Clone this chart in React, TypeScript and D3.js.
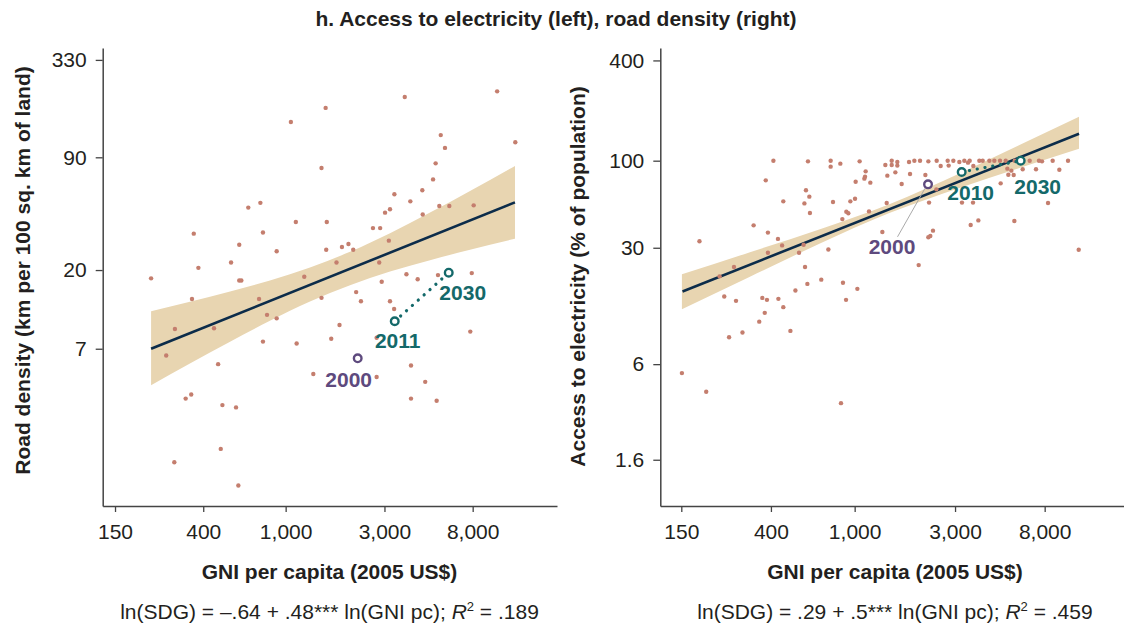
import { useEffect, useRef } from "react";
import * as d3 from "d3";

const gniTicks = [150, 400, 1000, 3000, 8000];

// Left panel: road density vs GNI per capita
const roadGni = [
  10500, 3760, 1560, 1060, 12850, 5610, 5880, 1490, 5300, 5150,
  3350, 4570, 4000, 5520, 6170, 8090, 3190, 3020, 4590, 660,
  755, 1120, 1580, 777, 360, 2640, 2860, 3150, 597, 905,
  1570, 1870, 2010, 2120, 545, 379, 1760, 2830, 224, 597,
  611, 1230, 3830, 4340, 5440, 7920, 2910, 353, 744, 1490,
  2190, 2310, 3190, 3340, 813, 905, 292, 451, 1820, 265,
  472, 777, 1130, 1660, 2750, 1360, 2750, 4030, 4720, 4030,
  5360, 7790, 329, 350, 495, 576, 486, 290, 591, 3360,
];
const roadDensity = [
  217, 201, 174, 144, 110, 121, 102, 78, 83, 67,
  55, 58, 50, 47, 47, 47.4, 45, 43, 42, 46,
  49, 38, 38, 33, 32.5, 35, 35, 29.6, 28, 25.7,
  26.2, 27.2, 28.3, 26.2, 22.1, 20.6, 22.1, 22.1, 17.9, 17.4,
  17.4, 18.3, 18.9, 17.7, 18.7, 19.2, 17.1, 13.6, 13.6, 13.8,
  14.9, 13.2, 13.2, 11.9, 11.0, 10.5, 9.1, 9.2, 9.6, 6.4,
  5.7, 7.7, 7.5, 8.0, 8.1, 5.0, 4.8, 5.6, 4.5, 3.6,
  3.5, 8.8, 3.6, 3.8, 3.3, 3.2, 1.84, 1.54, 1.13, 10.1,
];
const roadTicks = [7, 20, 90, 330];
const roadBandGni = [224, 345, 539, 840, 1311, 2046, 3192, 4980, 7768, 12806];
const roadBandLow = [4.3, 5.74, 7.69, 10.16, 13.13, 16.34, 19.59, 22.8, 26.23, 30.39];
const roadBandHigh = [11.53, 13.09, 15.02, 17.42, 20.72, 25.51, 32.69, 43.04, 57.46, 80.24];
const roadFitGni = [224, 12800];
const roadFit = [7.0, 49.3];
const roadYears = ["2000", "2011", "2030"];
const roadYearGni = [2228, 3363, 6130];
const roadYearValue = [6.16, 10.1, 19.3];

// Right panel: access to electricity vs GNI per capita
const elecGni = [
  411, 600, 769, 769, 855, 1056, 1399, 1500, 1500, 1595,
  1595, 1813, 1922, 2045, 2240, 2454, 2564, 2768, 2798, 2945,
  3145, 3321, 3457, 3521, 3665, 3914, 4060, 4368, 4612, 4907,
  5222, 5763, 6788, 7518, 7770, 8733, 10330, 5318, 5556, 5375,
  5700, 6290, 7276, 9393, 4943, 3237, 3652, 3560, 3871, 5741,
  8299, 11610, 1128, 1112, 1120, 1011, 1187, 1430, 1561, 1833,
  1673, 2168, 378, 2445, 587, 609, 577, 458, 789, 954,
  1004, 1420, 2257, 613, 913, 933, 874, 1170, 331, 387,
  432, 452, 387, 544, 572, 750, 1354, 2289, 2240, 2357,
  183, 2015, 267, 228, 581, 240, 273, 364, 383, 434,
  458, 374, 352, 253, 293, 495, 523, 596, 694, 880,
  910, 1030, 151, 197, 861,
];
const elecAccess = [
  100, 99.1, 100, 92.1, 96, 99.1, 94.2, 100, 94.2, 98.2,
  93.4, 98.2, 100, 100, 99.1, 100, 92.9, 100, 93.4, 100,
  98.2, 100, 97.3, 100, 92.9, 100, 100, 100, 100, 100,
  100, 100, 100, 100, 99.1, 100, 100, 89.6, 87.1, 82.4,
  82.1, 88.8, 88.8, 88.3, 73.1, 56, 56, 41.1, 43.8, 43.4,
  55.7, 29.2, 86.3, 78, 80.2, 74.8, 73.8, 81.3, 85.1, 83.2,
  72.4, 82.1, 76.2, 67.3, 66.4, 60.8, 55.4, 57, 56.5, 57,
  59.1, 55.7, 56, 48.5, 49.4, 48.3, 44.6, 49.6, 40.9, 37,
  33.9, 31, 28, 28, 31.3, 29.3, 37.3, 35.3, 34.7, 38,
  32.8, 23.6, 23, 20.2, 23, 15.3, 14.4, 15, 14.6, 14.8,
  13.2, 12.2, 10.8, 8.7, 9.3, 9.5, 16.6, 18.2, 19.3, 18.5,
  14.6, 17, 5.3, 4.1, 3.5,
];
const elecTicks = [1.6, 6, 30, 100, 400];
const elecBandGni = [151, 318, 684, 1472, 3167, 6108, 11650];
const elecBandLow = [12.8, 20.1, 31.8, 48.6, 68.9, 90.6, 118.1];
const elecBandHigh = [20.8, 28.2, 38.8, 55.0, 84.1, 124.6, 183.8];
const elecFitGni = [152, 11650];
const elecFit = [16.4, 145];
const elecYears = ["2000", "2010", "2030"];
const elecYearGni = [2232, 3226, 6153];
const elecYearValue = [72.1, 85.5, 100];

const FONT = "'Liberation Sans', Arial, Helvetica, sans-serif";
const INK = "#231f20";
const AXIS = "#444";
const DOT = "#c47e6e";
const BAND = "#e8d5b1";
const NAVY = "#0c2c4a";
const TEAL = "#14696a";
const PURPLE = "#5e4a7e";

const panels = [
  {
    gni: roadGni,
    value: roadDensity,
    yTicks: roadTicks,
    bandGni: roadBandGni,
    bandLow: roadBandLow,
    bandHigh: roadBandHigh,
    fitGni: roadFitGni,
    fit: roadFit,
    years: roadYears,
    yearGni: roadYearGni,
    yearValue: roadYearValue,
    labelOffsets: [[-9, 29], [3, 27], [14, 27]],
    leader: false,
    xRange: [102.7, 557],
    xDomain: [130.8, 20430],
    yDomain: [0.859, 386.8],
    yLabel: "Road density (km per 100 sq. km of land)",
    yLabelPos: [22, 270.5],
    centerX: 329.5,
    formulaHead: "ln(SDG) = \u2013.64 + .48*** ln(GNI pc); ",
    formulaTail: " = .189",
  },
  {
    gni: elecGni,
    value: elecAccess,
    yTicks: elecTicks,
    bandGni: elecBandGni,
    bandLow: elecBandLow,
    bandHigh: elecBandHigh,
    fitGni: elecFitGni,
    fit: elecFit,
    years: elecYears,
    yearGni: elecYearGni,
    yearValue: elecYearValue,
    labelOffsets: [[-36, 70], [9, 27.5], [17, 33]],
    leader: true,
    xRange: [660.3, 1124],
    xDomain: [119.2, 19060],
    yDomain: [0.844, 475],
    yLabel: "Access to electricity (% of population)",
    yLabelPos: [577, 276.5],
    centerX: 895,
    formulaHead: "ln(SDG) = .29 + .5*** ln(GNI pc); ",
    formulaTail: " = .459",
  },
];

const App = () => {
  const svgRef = useRef<SVGSVGElement>(null);

  useEffect(() => {
    const svg = d3.select(svgRef.current);
    svg.selectAll("*").remove();

    const top = 48;
    const bottom = 506;

    svg
      .append("text")
      .attr("x", 556)
      .attr("y", 25.5)
      .attr("text-anchor", "middle")
      .attr("font-family", FONT)
      .attr("font-weight", "bold")
      .attr("font-size", 21)
      .attr("fill", INK)
      .text("h. Access to electricity (left), road density (right)");

    panels.forEach((p) => {
      const x = d3.scaleLog().domain(p.xDomain).range(p.xRange);
      const y = d3.scaleLog().domain(p.yDomain).range([bottom, top]);
      const g = svg.append("g");

      // confidence band
      const bandArea = d3
        .area<number>()
        .x((i) => x(p.bandGni[i]))
        .y0((i) => y(p.bandLow[i]))
        .y1((i) => y(p.bandHigh[i]))
        .curve(d3.curveMonotoneX);
      g.append("path")
        .attr("d", bandArea(d3.range(p.bandGni.length)))
        .attr("fill", BAND);

      // fitted line
      const fitLine = d3
        .line<number>()
        .x((i) => x(p.fitGni[i]))
        .y((i) => y(p.fit[i]));
      g.append("path")
        .attr("d", fitLine(d3.range(p.fitGni.length)))
        .attr("fill", "none")
        .attr("stroke", NAVY)
        .attr("stroke-width", 2.6);

      // country dots
      g.selectAll(".dot")
        .data(p.gni)
        .enter()
        .append("circle")
        .attr("class", "dot")
        .attr("cx", (d) => x(d))
        .attr("cy", (_d, i) => y(p.value[i]))
        .attr("r", 2.2)
        .attr("fill", DOT);

      // axes
      const xAxis = d3
        .axisBottom(x)
        .tickValues(gniTicks)
        .tickFormat((d) => d3.format(",")(d as number))
        .tickSize(6)
        .tickSizeOuter(0)
        .tickPadding(12);
      const xg = g
        .append("g")
        .attr("transform", `translate(0,${bottom})`)
        .call(xAxis);

      const yAxis = d3
        .axisLeft(y)
        .tickValues(p.yTicks)
        .tickFormat((d) => String(d))
        .tickSize(7)
        .tickSizeOuter(0)
        .tickPadding(9);
      const yg = g
        .append("g")
        .attr("transform", `translate(${p.xRange[0]},0)`)
        .call(yAxis);

      [xg, yg].forEach((ag) => {
        ag.attr("font-size", 21).attr("font-family", FONT);
        ag.select(".domain").attr("stroke", AXIS).attr("stroke-width", 1.5);
        ag.selectAll(".tick line").attr("stroke", AXIS).attr("stroke-width", 1.3);
        ag.selectAll(".tick text").attr("fill", INK);
      });

      // path of the highlighted country
      const px = p.yearGni.map((v) => x(v));
      const py = p.yearValue.map((v) => y(v));
      g.append("line")
        .attr("x1", px[1])
        .attr("y1", py[1])
        .attr("x2", px[2])
        .attr("y2", py[2])
        .attr("stroke", TEAL)
        .attr("stroke-width", 3.2)
        .attr("stroke-linecap", "round")
        .attr("stroke-dasharray", "0.1 7.8");

      if (p.leader) {
        const [dx, dy] = p.labelOffsets[0];
        g.append("line")
          .attr("x1", px[0] - 3)
          .attr("y1", py[0] + 4)
          .attr("x2", px[0] + dx + 5.5)
          .attr("y2", py[0] + dy - 17.5)
          .attr("stroke", "#aaa")
          .attr("stroke-width", 1);
      }

      p.years.forEach((yr, i) => {
        const color = i === 0 ? PURPLE : TEAL;
        g.append("circle")
          .attr("cx", px[i])
          .attr("cy", py[i])
          .attr("r", 3.8)
          .attr("fill", "#fff")
          .attr("stroke", color)
          .attr("stroke-width", 2.4);
        g.append("text")
          .attr("x", px[i] + p.labelOffsets[i][0])
          .attr("y", py[i] + p.labelOffsets[i][1])
          .attr("text-anchor", "middle")
          .attr("font-family", FONT)
          .attr("font-weight", "bold")
          .attr("font-size", 21)
          .attr("fill", color)
          .text(yr);
      });

      // axis titles
      g.append("text")
        .attr(
          "transform",
          `translate(${p.yLabelPos[0]},${p.yLabelPos[1]}) rotate(-90)`
        )
        .attr("dy", "0.36em")
        .attr("text-anchor", "middle")
        .attr("font-family", FONT)
        .attr("font-weight", "bold")
        .attr("font-size", 21)
        .attr("fill", INK)
        .text(p.yLabel);

      g.append("text")
        .attr("x", p.centerX)
        .attr("y", 579)
        .attr("text-anchor", "middle")
        .attr("font-family", FONT)
        .attr("font-weight", "bold")
        .attr("font-size", 21)
        .attr("fill", INK)
        .text("GNI per capita (2005 US$)");

      const formula = g
        .append("text")
        .attr("x", p.centerX)
        .attr("y", 619)
        .attr("text-anchor", "middle")
        .attr("font-family", FONT)
        .attr("font-size", 21)
        .attr("fill", INK)
        .style("white-space", "pre");
      formula.append("tspan").text(p.formulaHead);
      formula.append("tspan").attr("font-style", "italic").text("R");
      formula
        .append("tspan")
        .attr("font-size", 13)
        .attr("dy", -8)
        .text("2");
      formula.append("tspan").attr("dy", 8).text(p.formulaTail);
    });
  }, []);

  return (
    <svg
      ref={svgRef}
      width={1124}
      height={628}
      style={{ position: "absolute", left: 0, top: 0, background: "#fff" }}
    />
  );
};

export default App;
